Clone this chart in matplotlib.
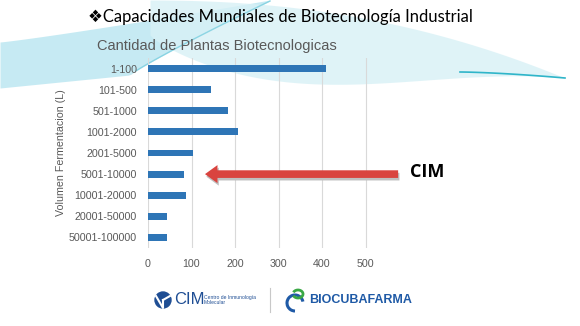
import numpy as np
import matplotlib.pyplot as plt
from matplotlib.patches import Circle, Arc

categorias = ['1-100', '101-500', '501-1000', '1001-2000', '2001-5000',
              '5001-10000', '10001-20000', '20001-50000', '50001-100000']
plantas = [410, 144, 184, 206, 104, 83, 88, 44, 43]
xticks = [0, 100, 200, 300, 400, 500]

W, H = 580, 326
fig = plt.figure(figsize=(W / 100, H / 100), dpi=100)
fig.patch.set_facecolor('white')

# fondo con las ondas celestes (coordenadas en pixeles)
bg = fig.add_axes([0, 0, 1, 1], zorder=-5)
bg.set_xlim(0, W)
bg.set_ylim(H, 0)
bg.axis('off')
xs = np.linspace(0, 270, 100)
up1 = 42 - 42 * (xs / 270) ** 1.1
lo1 = 88 - 20 * (xs / 200) - 60 * np.clip((xs - 130) / 140, 0, 1) ** 0.9
lo1 = np.maximum(lo1, up1)
bg.fill_between(xs, up1, lo1, color='#b3e4ef', alpha=0.75, lw=0)
bg.plot(xs[50:], lo1[50:], color='#6fcadc', lw=1, alpha=0.7)
xr = np.linspace(150, 565, 120)
t = (xr - 150) / 415
up2 = 0 + 78 * t ** 2.2
lo2 = 35 + 55 * np.sin(np.pi * t) ** 0.8 * (1 - t) + 43 * t
bg.fill_between(xr, up2, lo2, color='#d8f1f6', alpha=0.8, lw=0)
xt = np.linspace(460, 565, 40)
bg.plot(xt, 72 + 6 * ((xt - 460) / 105) ** 1.5, color='#2fb5c9', lw=1.2)

fig.text(88 / W, 1 - 17 / H, '\u2756Capacidades Mundiales de Biotecnología Industrial',
         family=['Lato', 'DejaVu Sans'], fontsize=12, color='black', va='center')
fig.text(97 / W, 1 - 46 / H, 'Cantidad de Plantas Biotecnologicas',
         family='Liberation Sans', fontsize=10.5, color='#595959', va='center')

ax = fig.add_axes([148 / W, 78 / H, 261 / W, 190 / H])
ax.patch.set_alpha(0)
y = np.arange(len(categorias))
ax.barh(y, plantas, height=0.33, color='#2e75b6', zorder=3)
ax.set_ylim(8.5, -0.5)
ax.set_xlim(0, 600)
ax.set_xticks(xticks)
ax.set_yticks(y)
ax.set_yticklabels(categorias)
for s in ax.spines.values():
    s.set_visible(False)
ax.grid(axis='x', color='#d9d9d9', lw=0.8, zorder=0)
ax.tick_params(length=0, labelsize=7.7, labelcolor='#595959', pad=8)
for lab in ax.get_xticklabels() + ax.get_yticklabels():
    lab.set_family('Liberation Sans')
ax.set_ylabel('Volumen Fermentacion (L)', family='Liberation Sans', fontsize=7.7,
              color='#595959', labelpad=2)

# flecha roja con sombra
for dx, dy, col in [(3, 0.12, '#bfbfbf'), (0, 0, '#d9443f')]:
    ax.annotate('', xy=(131 + dx, 5 + dy), xytext=(575 + dx, 5 + dy),
                arrowprops=dict(arrowstyle='simple,head_length=0.9,head_width=1.3,tail_width=0.55',
                                color=col, lw=0, shrinkA=0, shrinkB=0),
                annotation_clip=False, zorder=5)
fig.text(410 / W, 1 - 172 / H, 'CIM', family=['Open Sans', 'DejaVu Sans'],
         fontsize=13, fontweight='bold', color='black', va='center')

# logos del pie
bg.add_patch(Circle((163, 300), 8, color='#1f4e94'))
bg.plot([163, 163, 156], [300, 308, 296], color='white', lw=1.5)
bg.plot([163, 170], [300, 296], color='white', lw=1.5)
bg.text(174, 300, 'CIM', fontsize=12, color='#1f4e94', va='center', ha='left',
        family='Liberation Sans')
bg.text(204, 300, 'Centro de Inmunología\nMolecular', fontsize=3.6, color='#1f4e94',
        va='center', ha='left', family='Liberation Sans', linespacing=1.1)
bg.plot([270, 270], [288, 312], color='#c8c8c8', lw=0.8)
bg.add_patch(Arc((295, 303), 16, 16, theta1=90, theta2=350, color='#1f5aa6', lw=2.2))
bg.add_patch(Arc((298, 294), 10, 8, theta1=200, theta2=520, color='#3aa845', lw=2.0))
bg.text(309, 300, 'BIOCUBAFARMA', fontsize=9, fontweight='bold', color='#1f5aa6',
        va='center', ha='left', family='Liberation Sans')

fig.savefig('out.png', dpi=100)
